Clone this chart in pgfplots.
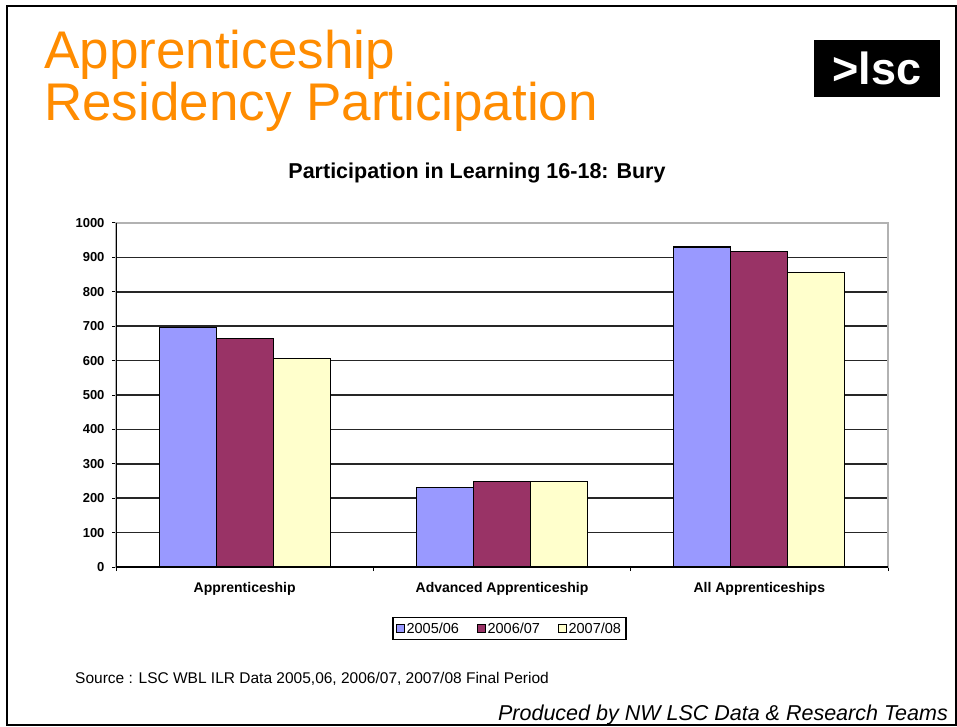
\documentclass[border=0pt]{standalone}
\usepackage{pgfplots}
\pgfplotsset{compat=1.18}
\usepackage{fontspec}
\setmainfont{Liberation Sans}
\definecolor{bblue}{RGB}{153,153,255}
\definecolor{bmaroon}{RGB}{153,51,102}
\definecolor{byellow}{RGB}{255,255,204}
\definecolor{ttorange}{RGB}{255,140,0}
\begin{document}
\begin{tikzpicture}[x=1pt,y=1pt]
\useasboundingbox (0,0) rectangle (957,726);
\fill[white] (0,0) rectangle (957,726);
\draw[line width=2pt] (7,720) rectangle (956,1.5);
\node[anchor=base west, text=ttorange, font=\fontsize{53}{53}\selectfont, inner sep=0] at (44,657) {Apprenticeship};
\node[anchor=base west, text=ttorange, font=\fontsize{53}{53}\selectfont, inner sep=0] at (44,605) {Residency Participation};
\fill[black] (814,686) rectangle (940,629);
\node[text=white, font=\bfseries\fontsize{45}{45}\selectfont, inner sep=0] at (877,658) {>lsc};
\node[font=\bfseries\fontsize{21.5}{21.5}\selectfont, inner sep=0] at (477,553) {Participation in Learning 16-18: Bury};
\coordinate (O) at (116pt,159pt);
\begin{axis}[
 at={(O)}, anchor=south west, scale only axis, width=772pt, height=344pt,
 ymin=0, ymax=1000, xmin=-0.5, xmax=2.5,
 ybar=0pt, bar width=57pt,
 ytick={0,100,...,1000},
 xtick={-0.5,0.5,1.5,2.5}, xticklabels={},
 extra x ticks={0,1,2},
 extra x tick labels={Apprenticeship, Advanced Apprenticeship, All Apprenticeships},
 extra x tick style={major tick length=0pt, grid=none, xticklabel style={yshift=-12pt}},
 xtick pos=bottom, ytick pos=left,
 tick align=outside, major tick length=4pt,
 tick style={black, line width=1pt},
 ymajorgrids, major grid style={draw=black!85, line width=1.6pt},
 axis line style={gray!60, line width=1.2pt},
 ticklabel style={font=\bfseries\fontsize{13}{13}\selectfont},
 xticklabel style={font=\bfseries\fontsize{14}{14}\selectfont},
 /pgf/number format/assume math mode=true,
 /pgf/number format/1000 sep={},
 yticklabel style={xshift=-4pt},
 legend style={at={(rel axis cs:0.5097,-0.179)}, anchor=center, legend columns=3,
   draw=black, line width=1.3pt, font=\fontsize{14.5}{14.5}\selectfont, inner sep=3pt,
   /tikz/every even column/.append style={column sep=16pt}},
 legend image code/.code={\draw[#1, draw=black, line width=0.6pt] (0pt,-4pt) rectangle (8pt,4pt);},
]
\addplot[fill=bblue, draw=black, line width=1.2pt] coordinates {(0,697) (1,231) (2,930)};
\addplot[fill=bmaroon, draw=black, line width=1.2pt] coordinates {(0,664) (1,249) (2,918)};
\addplot[fill=byellow, draw=black, line width=1.2pt] coordinates {(0,605) (1,249) (2,856)};
\legend{2005/06, 2006/07, 2007/08}
\draw[black, line width=1.5pt] (rel axis cs:0,0) -- (rel axis cs:0,1);
\draw[black, line width=1.5pt] (rel axis cs:0,0) -- (rel axis cs:1,0);
\end{axis}
\node[anchor=base west, font=\fontsize{15.5}{15.5}\selectfont, inner sep=0] at (75,43) {Source : LSC WBL ILR Data 2005,06, 2006/07, 2007/08 Final Period};
\node[anchor=base east, font=\itshape\fontsize{21.5}{21.5}\selectfont, inner sep=0] at (948,6) {Produced by NW LSC Data \& Research Teams};
\end{tikzpicture}
\end{document}
